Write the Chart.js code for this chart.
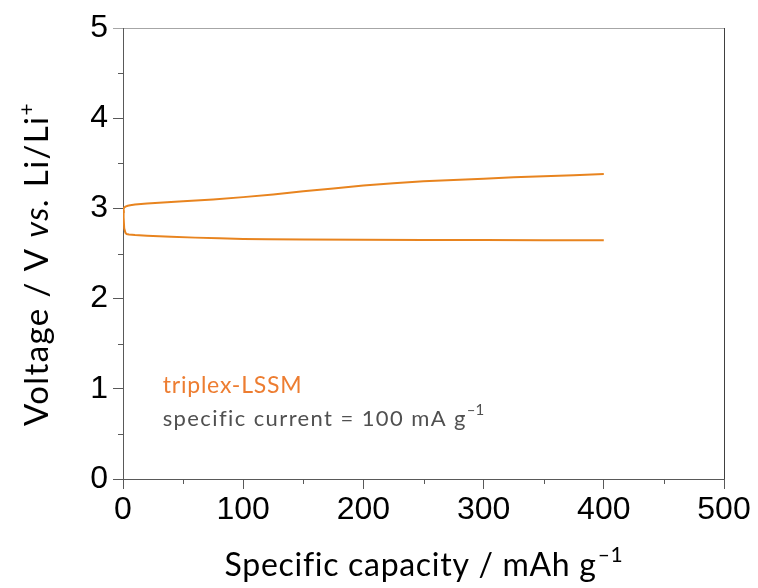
<!DOCTYPE html>
<html><head><meta charset="utf-8">
<script src="https://cdn.jsdelivr.net/npm/chart.js@4.4.1/dist/chart.umd.min.js"></script>
<style>html,body{margin:0;padding:0;background:#fff;}#wrap{width:758px;height:588px;}</style>
</head><body><div id="wrap"><canvas id="c" width="758" height="588"></canvas></div>
<script>
// Discharge branch (capacity mAh/g, voltage V)
const dischargeCap = [0, 0.5, 1, 2, 3, 5, 10, 20, 30, 40, 60, 80, 100, 120, 150, 200, 250, 300, 350, 400];
const dischargeV   = [2.98, 2.90, 2.78, 2.73, 2.715, 2.71, 2.705, 2.698, 2.692, 2.686, 2.676, 2.668, 2.662, 2.658, 2.655, 2.652, 2.650, 2.649, 2.648, 2.647];
// Charge branch
const chargeCap = [0, 0.5, 1, 2, 4, 6, 10, 15, 20, 30, 50, 75, 100, 125, 150, 175, 200, 225, 250, 275, 300, 325, 350, 375, 400];
const chargeV   = [2.96, 2.99, 3.01, 3.02, 3.03, 3.035, 3.043, 3.05, 3.055, 3.063, 3.08, 3.10, 3.125, 3.155, 3.19, 3.22, 3.255, 3.28, 3.30, 3.315, 3.33, 3.345, 3.357, 3.368, 3.38];
const xTicks = [0, 100, 200, 300, 400, 500];
const yTicks = [0, 1, 2, 3, 4, 5];
const seriesLabel = 'triplex-LSSM';
const noteText = 'specific current = 100 mA g';

const LINE = '#E8841F';
const AXIS = '#595959';

function pts(xs, ys){ return xs.map((x,i)=>({x:x, y:ys[i]})); }

const decor = {
  id:'decor',
  afterDraw(chart){
    const ctx = chart.ctx, xs = chart.scales.x, ys = chart.scales.y;
    ctx.save();
    // minor ticks
    ctx.strokeStyle = AXIS; ctx.lineWidth = 1;
    for(let v=0.5; v<5; v+=1){
      const p = Math.round(ys.getPixelForValue(v))+0.5;
      ctx.beginPath(); ctx.moveTo(xs.left-5, p); ctx.lineTo(xs.left, p); ctx.stroke();
    }
    for(let v=50; v<500; v+=100){
      const p = Math.round(xs.getPixelForValue(v))+0.5;
      ctx.beginPath(); ctx.moveTo(p, ys.bottom); ctx.lineTo(p, ys.bottom+5); ctx.stroke();
    }
    // annotations
    ctx.textBaseline = 'alphabetic'; ctx.textAlign = 'left';
    const ax = xs.getPixelForValue(33);
    ctx.fillStyle = '#ED7D31';
    ctx.font = '23px Lato';
    ctx.letterSpacing = '0.8px';
    ctx.fillText(seriesLabel, ax, 393);
    ctx.fillStyle = '#505050';
    ctx.font = '22px Lato';
    ctx.letterSpacing = '1.4px';
    ctx.fillText(noteText, ax, 426);
    let w = ctx.measureText(noteText).width;
    ctx.font = '15px Lato';
    ctx.letterSpacing = '0px';
    ctx.fillText('\u20131', ax + w, 415);
    // x title
    ctx.fillStyle = '#000';
    ctx.letterSpacing = '0.7px';
    ctx.font = '32px Lato';
    const t1 = 'Specific capacity / mAh g';
    const w1 = ctx.measureText(t1).width;
    ctx.font = '21px Lato';
    const w2 = ctx.measureText('\u20131').width;
    const cx = (xs.left + xs.right)/2;
    let sx = cx - (w1 + w2)/2;
    ctx.font = '32px Lato';
    ctx.fillText(t1, sx, 576);
    ctx.font = '21px Lato';
    ctx.fillText('\u20131', sx + w1 + 1, 562);
    // y title (rotated)
    ctx.translate(48, 264);
    ctx.rotate(-Math.PI/2);
    ctx.letterSpacing = '1.4px';
    const parts = [
      ['Voltage / V ', '33px Lato', 0],
      ['vs.', 'italic 33px Lato', 0],
      [' Li/Li', '33px Lato', 0],
      ['+', '21px Lato', -14]
    ];
    let total = 0;
    parts.forEach(p => { ctx.font = p[1]; total += ctx.measureText(p[0]).width; });
    let px = -total/2;
    parts.forEach(p => { ctx.font = p[1]; ctx.fillText(p[0], px, p[2]); px += ctx.measureText(p[0]).width; });
    ctx.restore();
  }
};

new Chart(document.getElementById('c'), {
  type: 'scatter',
  data: {
    datasets: [
      { label: 'discharge', data: pts(dischargeCap, dischargeV), showLine: true, borderColor: LINE, backgroundColor: LINE, borderWidth: 2, pointRadius: 0, tension: 0 },
      { label: 'charge', data: pts(chargeCap, chargeV), showLine: true, borderColor: LINE, backgroundColor: LINE, borderWidth: 2, pointRadius: 0, tension: 0 }
    ]
  },
  options: {
    responsive: false, animation: false,
    layout: { padding: { top: 28, right: 34, left: 0, bottom: 0 } },
    plugins: { legend: { display: false }, tooltip: { enabled: false } },
    scales: {
      x: {
        type: 'linear', min: 0, max: 500,
        afterFit: s => { s.height = 109; },
        afterBuildTicks: s => { s.ticks = xTicks.map(v => ({value: v})); },
        ticks: { font: { family: 'Liberation Sans', size: 32 }, color: '#000', padding: 2, maxRotation: 0 },
        border: { display: true, color: AXIS, width: 1 },
        grid: {
          drawOnChartArea: true, drawTicks: true, tickLength: 10,
          color: c => (c.tick && c.tick.value === 500) ? '#404040' : 'transparent',
          tickColor: AXIS, lineWidth: 1
        }
      },
      y: {
        type: 'linear', min: 0, max: 5,
        afterFit: s => { s.width = 123; },
        afterBuildTicks: s => { s.ticks = yTicks.map(v => ({value: v})); },
        ticks: { font: { family: 'Liberation Sans', size: 32 }, color: '#000', padding: 5 },
        border: { display: true, color: AXIS, width: 1 },
        grid: {
          drawOnChartArea: true, drawTicks: true, tickLength: 10,
          color: c => (c.tick && c.tick.value === 5) ? '#A6A6A6' : 'transparent',
          tickColor: c => (c.tick && c.tick.value === 5) ? '#A6A6A6' : AXIS, lineWidth: 1
        }
      }
    }
  },
  plugins: [decor]
});
</script></body></html>
